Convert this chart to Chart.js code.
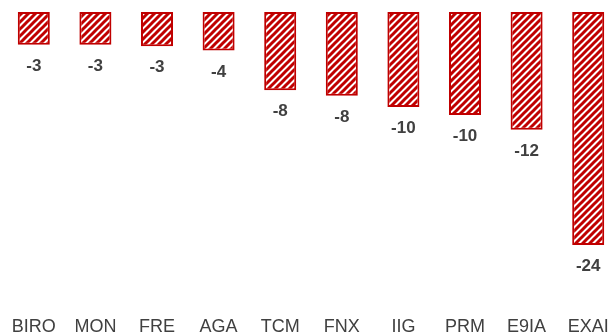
<!DOCTYPE html>
<html>
<head>
<meta charset="utf-8">
<script src="https://cdn.jsdelivr.net/npm/chart.js@4/dist/chart.umd.min.js"></script>
<style>
    body { margin: 0; overflow: hidden; background: #fff; }
    #wrap { width: 611px; height: 335px; overflow: hidden; }
</style>
</head>
<body>
<div id="wrap"><canvas id="myCanvas" width="621" height="342"></canvas></div>
<script>
// categorias y valores (variacion, en %)
const tickers = ["BIRO", "MON", "FRE", "AGA", "TCM", "FNX", "IIG", "PRM", "E9IA", "EXAI"];
const variaciones = [-3.3, -3.3, -3.45, -3.9, -7.9, -8.45, -9.6, -10.4, -11.9, -23.55];

const rojo = "#c00000";

// trama diagonal roja sobre blanco para rellenar las barras
function makeHatch() {
    const size = 7;
    const c = document.createElement("canvas");
    c.width = size;
    c.height = size;
    const g = c.getContext("2d");
    g.fillStyle = "#ffffff";
    g.fillRect(0, 0, size, size);
    g.strokeStyle = rojo;
    g.lineWidth = 3;
    g.beginPath();
    g.moveTo(-1, size + 1);
    g.lineTo(size + 1, -1);
    g.moveTo(-2, 2);
    g.lineTo(2, -2);
    g.moveTo(size - 2, size + 2);
    g.lineTo(size + 2, size - 2);
    g.stroke();
    return g.createPattern(c, "repeat");
}

// escribe el valor redondeado debajo de cada barra
const valueLabels = {
    id: "valueLabels",
    afterDatasetsDraw(chart) {
        const ctx = chart.ctx;
        const meta = chart.getDatasetMeta(0);
        ctx.save();
        ctx.font = "bold 17px 'Liberation Sans', Arial, sans-serif";
        ctx.fillStyle = "#404040";
        ctx.textAlign = "center";
        ctx.textBaseline = "alphabetic";
        meta.data.forEach((bar, i) => {
            ctx.fillText(String(Math.round(variaciones[i])), bar.x, bar.y + 26);
        });
        ctx.restore();
    }
};

const ctx = document.getElementById("myCanvas").getContext("2d");

const chart = new Chart(ctx, {
    type: "bar",
    data: {
        labels: tickers,
        datasets: [
            {
                data: variaciones,
                backgroundColor: makeHatch(),
                borderColor: rojo,
                borderWidth: 2,
                borderSkipped: false,
                barPercentage: 0.52,
                categoryPercentage: 1,
            },
        ],
    },
    options: {
        responsive: false,
        animation: false,
        layout: { padding: { left: 3, right: 2, top: 12, bottom: 0 } },
        plugins: {
            legend: { display: false },
            tooltip: { enabled: false },
        },
        scales: {
            x: {
                grid: { display: false, drawTicks: false },
                border: { display: false },
                ticks: {
                    color: "#404040",
                    padding: 4,
                    maxRotation: 0,
                    autoSkip: false,
                    font: { family: "'Liberation Sans', Arial, sans-serif", size: 18 },
                },
            },
            y: {
                display: false,
                min: -30.35,
                max: 0,
            },
        },
    },
    plugins: [valueLabels],
});
</script>
</body>
</html>
